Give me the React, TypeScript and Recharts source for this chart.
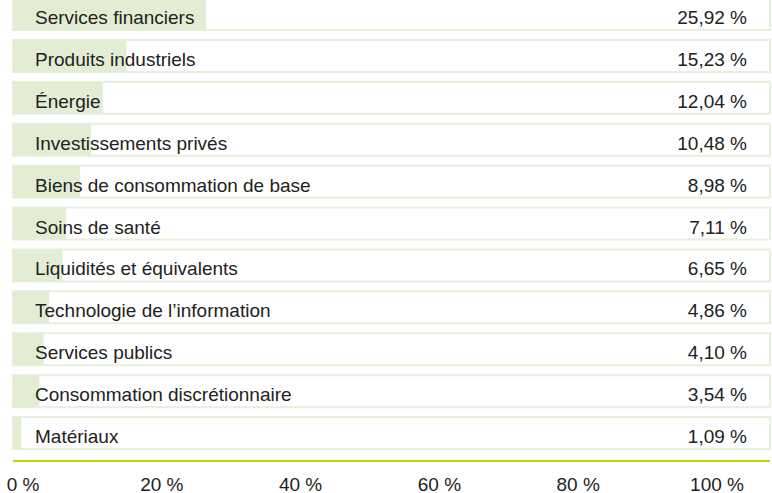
import { BarChart, Bar, XAxis, YAxis, LabelList } from "recharts";

const sectors = [
  "Services financiers",
  "Produits industriels",
  "Énergie",
  "Investissements privés",
  "Biens de consommation de base",
  "Soins de santé",
  "Liquidités et équivalents",
  "Technologie de l’information",
  "Services publics",
  "Consommation discrétionnaire",
  "Matériaux",
];
const weights = [25.92, 15.23, 12.04, 10.48, 8.98, 7.11, 6.65, 4.86, 4.1, 3.54, 1.09];
const axisTicks = [0, 20, 40, 60, 80, 100];

const FONT = '"Liberation Sans", Arial, Helvetica, sans-serif';
const TEXT = "#222222";
const W = 772;
const H = 500;
const M = { top: 0, right: 2, bottom: 0, left: 13 };
const ROW_PAD = 22;

const fmt = (v: number) => `${v.toFixed(2).replace(".", ",")} %`;

const data = sectors.map((name, i) => ({
  name,
  value: weights[i],
  valueLabel: fmt(weights[i]),
}));

function NameLabel({ x, y, height, value }: any) {
  return (
    <text x={x + ROW_PAD} y={y + height / 2} dy={10} textAnchor="start" fill={TEXT} fontSize={19} fontFamily={FONT}>
      {value}
    </text>
  );
}

function ValueLabel({ y, height, value }: any) {
  return (
    <text x={W - M.right - ROW_PAD - 1} y={y + height / 2} dy={10} textAnchor="end" fill={TEXT} fontSize={19} fontFamily={FONT}>
      {value}
    </text>
  );
}

function PctTick({ x, y, payload }: any) {
  return (
    <text x={x} y={y} dy={30} textAnchor="middle" fill={TEXT} fontSize={19} fontFamily={FONT}>
      {`${payload.value} %`}
    </text>
  );
}

export default function App() {
  return (
    <div style={{ position: "absolute", left: 0, top: -7, width: W, height: H }}>
      <BarChart width={W} height={H} data={data} layout="vertical" margin={M}>
        <XAxis
          xAxisId="bar"
          orientation="top"
          type="number"
          domain={[0, 100]}
          padding={{ left: 0, right: 12 }}
          hide
        />
        <XAxis
          xAxisId="pct"
          type="number"
          domain={[0, 100]}
          ticks={axisTicks}
          interval={0}
          padding={{ left: 10, right: 53 }}
          height={32}
          tickSize={0}
          tickMargin={0}
          tickLine={false}
          axisLine={{ stroke: "#bed600", strokeWidth: 2 }}
          tick={<PctTick />}
          allowDataOverflow
        />
        <YAxis yAxisId="names" type="category" dataKey="name" padding={{ top: 0, bottom: 7 }} hide />
        <Bar
          dataKey="value"
          xAxisId="bar"
          yAxisId="names"
          barSize={32}
          fill="#e2edd4"
          background={{ fill: "#ffffff", stroke: "#e7f0dc", strokeWidth: 2 }}
          isAnimationActive={false}
        >
          <LabelList dataKey="name" content={<NameLabel />} />
          <LabelList dataKey="valueLabel" content={<ValueLabel />} />
        </Bar>
      </BarChart>
    </div>
  );
}
